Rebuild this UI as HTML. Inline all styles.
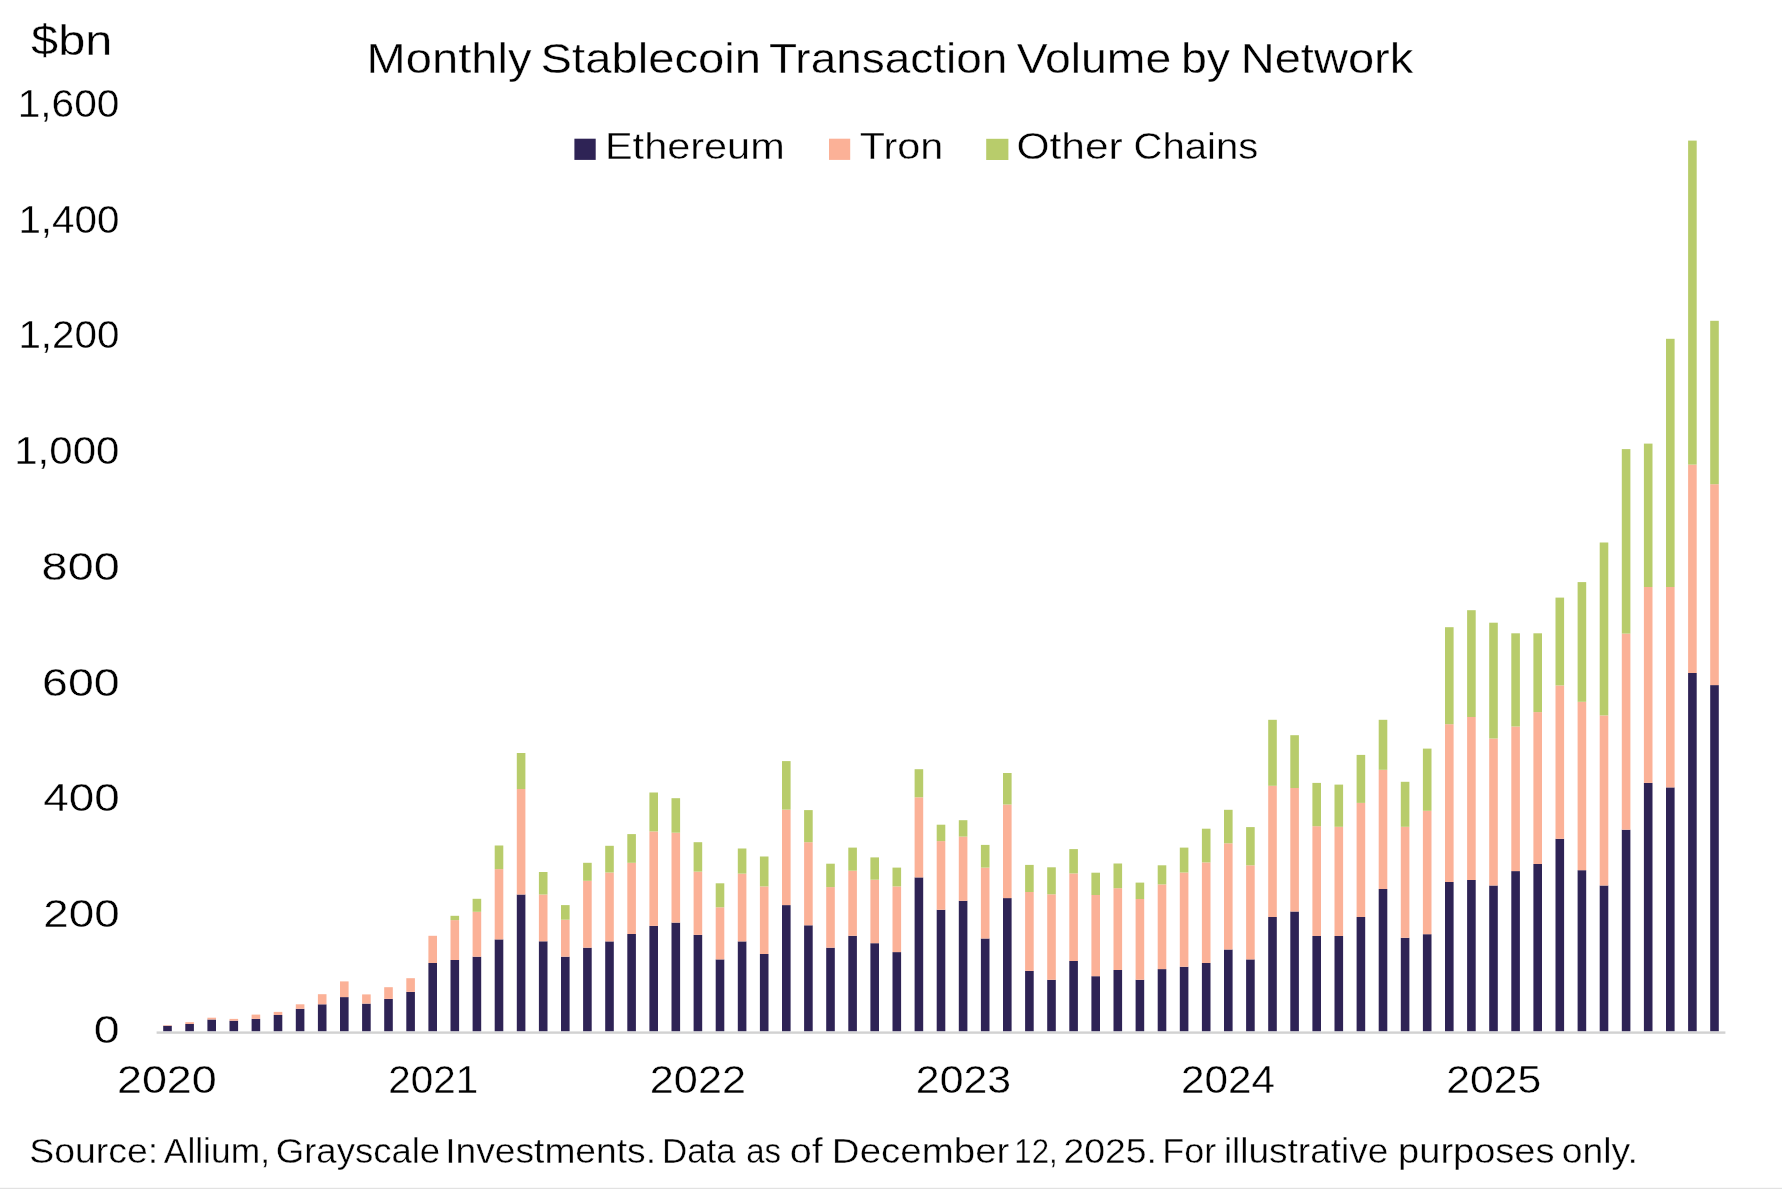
<!DOCTYPE html>
<html><head><meta charset="utf-8"><title>Monthly Stablecoin Transaction Volume by Network</title>
<style>
html,body{margin:0;padding:0;background:#fff;}
body{width:1782px;height:1189px;overflow:hidden;font-family:"Liberation Sans",sans-serif;}
svg{display:block;position:absolute;left:0;top:0;}
svg text{font-family:"Liberation Sans",sans-serif;}
</style></head><body>
<svg width="1782" height="1189" viewBox="0 0 1782 1189">
<rect x="0" y="0" width="1782" height="1189" fill="#ffffff"/>
<rect x="156.6" y="1031.4" width="1568.8" height="2.4" fill="#d2d2d2"/>
<rect x="0" y="1187.8" width="1782" height="1.2" fill="#e2e2e2"/>
<g>
<rect x="163.20" y="1025.80" width="8.6" height="5.40" fill="#2e2355"/>
<rect x="163.20" y="1025.20" width="8.6" height="0.60" fill="#fbb197"/>
<rect x="185.30" y="1024.00" width="8.6" height="7.20" fill="#2e2355"/>
<rect x="185.30" y="1022.20" width="8.6" height="1.80" fill="#fbb197"/>
<rect x="207.40" y="1019.50" width="8.6" height="11.70" fill="#2e2355"/>
<rect x="207.40" y="1017.70" width="8.6" height="1.80" fill="#fbb197"/>
<rect x="229.50" y="1020.70" width="8.6" height="10.50" fill="#2e2355"/>
<rect x="229.50" y="1018.90" width="8.6" height="1.80" fill="#fbb197"/>
<rect x="251.60" y="1018.90" width="8.6" height="12.30" fill="#2e2355"/>
<rect x="251.60" y="1014.60" width="8.6" height="4.30" fill="#fbb197"/>
<rect x="273.70" y="1015.00" width="8.6" height="16.20" fill="#2e2355"/>
<rect x="273.70" y="1011.90" width="8.6" height="3.10" fill="#fbb197"/>
<rect x="295.80" y="1008.80" width="8.6" height="22.40" fill="#2e2355"/>
<rect x="295.80" y="1004.30" width="8.6" height="4.50" fill="#fbb197"/>
<rect x="317.90" y="1004.30" width="8.6" height="26.90" fill="#2e2355"/>
<rect x="317.90" y="994.20" width="8.6" height="10.10" fill="#fbb197"/>
<rect x="340.00" y="997.10" width="8.6" height="34.10" fill="#2e2355"/>
<rect x="340.00" y="981.40" width="8.6" height="15.70" fill="#fbb197"/>
<rect x="362.10" y="1003.60" width="8.6" height="27.60" fill="#2e2355"/>
<rect x="362.10" y="994.40" width="8.6" height="9.20" fill="#fbb197"/>
<rect x="384.20" y="998.90" width="8.6" height="32.30" fill="#2e2355"/>
<rect x="384.20" y="987.20" width="8.6" height="11.70" fill="#fbb197"/>
<rect x="406.30" y="991.90" width="8.6" height="39.30" fill="#2e2355"/>
<rect x="406.30" y="978.20" width="8.6" height="13.70" fill="#fbb197"/>
<rect x="428.40" y="963.00" width="8.6" height="68.20" fill="#2e2355"/>
<rect x="428.40" y="935.80" width="8.6" height="27.20" fill="#fbb197"/>
<rect x="450.50" y="960.00" width="8.6" height="71.20" fill="#2e2355"/>
<rect x="450.50" y="920.10" width="8.6" height="39.90" fill="#fbb197"/>
<rect x="450.50" y="915.80" width="8.6" height="4.30" fill="#b8cc6b"/>
<rect x="472.60" y="956.70" width="8.6" height="74.50" fill="#2e2355"/>
<rect x="472.60" y="911.80" width="8.6" height="44.90" fill="#fbb197"/>
<rect x="472.60" y="898.80" width="8.6" height="13.00" fill="#b8cc6b"/>
<rect x="494.70" y="939.40" width="8.6" height="91.80" fill="#2e2355"/>
<rect x="494.70" y="869.10" width="8.6" height="70.30" fill="#fbb197"/>
<rect x="494.70" y="845.50" width="8.6" height="23.60" fill="#b8cc6b"/>
<rect x="516.80" y="894.50" width="8.6" height="136.70" fill="#2e2355"/>
<rect x="516.80" y="789.00" width="8.6" height="105.50" fill="#fbb197"/>
<rect x="516.80" y="753.00" width="8.6" height="36.00" fill="#b8cc6b"/>
<rect x="538.90" y="941.30" width="8.6" height="89.90" fill="#2e2355"/>
<rect x="538.90" y="894.50" width="8.6" height="46.80" fill="#fbb197"/>
<rect x="538.90" y="872.00" width="8.6" height="22.50" fill="#b8cc6b"/>
<rect x="561.00" y="956.70" width="8.6" height="74.50" fill="#2e2355"/>
<rect x="561.00" y="919.70" width="8.6" height="37.00" fill="#fbb197"/>
<rect x="561.00" y="905.10" width="8.6" height="14.60" fill="#b8cc6b"/>
<rect x="583.10" y="947.70" width="8.6" height="83.50" fill="#2e2355"/>
<rect x="583.10" y="880.80" width="8.6" height="66.90" fill="#fbb197"/>
<rect x="583.10" y="862.80" width="8.6" height="18.00" fill="#b8cc6b"/>
<rect x="605.20" y="941.40" width="8.6" height="89.80" fill="#2e2355"/>
<rect x="605.20" y="872.50" width="8.6" height="68.90" fill="#fbb197"/>
<rect x="605.20" y="845.80" width="8.6" height="26.70" fill="#b8cc6b"/>
<rect x="627.30" y="934.00" width="8.6" height="97.20" fill="#2e2355"/>
<rect x="627.30" y="862.80" width="8.6" height="71.20" fill="#fbb197"/>
<rect x="627.30" y="834.10" width="8.6" height="28.70" fill="#b8cc6b"/>
<rect x="649.40" y="925.90" width="8.6" height="105.30" fill="#2e2355"/>
<rect x="649.40" y="831.40" width="8.6" height="94.50" fill="#fbb197"/>
<rect x="649.40" y="792.50" width="8.6" height="38.90" fill="#b8cc6b"/>
<rect x="671.50" y="922.60" width="8.6" height="108.60" fill="#2e2355"/>
<rect x="671.50" y="832.70" width="8.6" height="89.90" fill="#fbb197"/>
<rect x="671.50" y="798.20" width="8.6" height="34.50" fill="#b8cc6b"/>
<rect x="693.60" y="934.90" width="8.6" height="96.30" fill="#2e2355"/>
<rect x="693.60" y="871.60" width="8.6" height="63.30" fill="#fbb197"/>
<rect x="693.60" y="842.20" width="8.6" height="29.40" fill="#b8cc6b"/>
<rect x="715.70" y="959.40" width="8.6" height="71.80" fill="#2e2355"/>
<rect x="715.70" y="907.30" width="8.6" height="52.10" fill="#fbb197"/>
<rect x="715.70" y="883.30" width="8.6" height="24.00" fill="#b8cc6b"/>
<rect x="737.80" y="941.40" width="8.6" height="89.80" fill="#2e2355"/>
<rect x="737.80" y="873.60" width="8.6" height="67.80" fill="#fbb197"/>
<rect x="737.80" y="848.50" width="8.6" height="25.10" fill="#b8cc6b"/>
<rect x="759.90" y="954.00" width="8.6" height="77.20" fill="#2e2355"/>
<rect x="759.90" y="886.40" width="8.6" height="67.60" fill="#fbb197"/>
<rect x="759.90" y="856.50" width="8.6" height="29.90" fill="#b8cc6b"/>
<rect x="782.00" y="905.10" width="8.6" height="126.10" fill="#2e2355"/>
<rect x="782.00" y="809.60" width="8.6" height="95.50" fill="#fbb197"/>
<rect x="782.00" y="761.10" width="8.6" height="48.50" fill="#b8cc6b"/>
<rect x="804.10" y="925.30" width="8.6" height="105.90" fill="#2e2355"/>
<rect x="804.10" y="842.20" width="8.6" height="83.10" fill="#fbb197"/>
<rect x="804.10" y="810.10" width="8.6" height="32.10" fill="#b8cc6b"/>
<rect x="826.20" y="947.70" width="8.6" height="83.50" fill="#2e2355"/>
<rect x="826.20" y="887.10" width="8.6" height="60.60" fill="#fbb197"/>
<rect x="826.20" y="863.70" width="8.6" height="23.40" fill="#b8cc6b"/>
<rect x="848.30" y="935.80" width="8.6" height="95.40" fill="#2e2355"/>
<rect x="848.30" y="870.70" width="8.6" height="65.10" fill="#fbb197"/>
<rect x="848.30" y="847.60" width="8.6" height="23.10" fill="#b8cc6b"/>
<rect x="870.40" y="943.20" width="8.6" height="88.00" fill="#2e2355"/>
<rect x="870.40" y="879.70" width="8.6" height="63.50" fill="#fbb197"/>
<rect x="870.40" y="857.40" width="8.6" height="22.30" fill="#b8cc6b"/>
<rect x="892.50" y="952.10" width="8.6" height="79.10" fill="#2e2355"/>
<rect x="892.50" y="886.40" width="8.6" height="65.70" fill="#fbb197"/>
<rect x="892.50" y="867.60" width="8.6" height="18.80" fill="#b8cc6b"/>
<rect x="914.60" y="877.40" width="8.6" height="153.80" fill="#2e2355"/>
<rect x="914.60" y="797.30" width="8.6" height="80.10" fill="#fbb197"/>
<rect x="914.60" y="769.20" width="8.6" height="28.10" fill="#b8cc6b"/>
<rect x="936.70" y="909.80" width="8.6" height="121.40" fill="#2e2355"/>
<rect x="936.70" y="841.10" width="8.6" height="68.70" fill="#fbb197"/>
<rect x="936.70" y="824.70" width="8.6" height="16.40" fill="#b8cc6b"/>
<rect x="958.80" y="900.80" width="8.6" height="130.40" fill="#2e2355"/>
<rect x="958.80" y="836.60" width="8.6" height="64.20" fill="#fbb197"/>
<rect x="958.80" y="820.20" width="8.6" height="16.40" fill="#b8cc6b"/>
<rect x="980.90" y="938.50" width="8.6" height="92.70" fill="#2e2355"/>
<rect x="980.90" y="867.60" width="8.6" height="70.90" fill="#fbb197"/>
<rect x="980.90" y="844.90" width="8.6" height="22.70" fill="#b8cc6b"/>
<rect x="1003.00" y="898.10" width="8.6" height="133.10" fill="#2e2355"/>
<rect x="1003.00" y="804.50" width="8.6" height="93.60" fill="#fbb197"/>
<rect x="1003.00" y="773.00" width="8.6" height="31.50" fill="#b8cc6b"/>
<rect x="1025.10" y="970.90" width="8.6" height="60.30" fill="#2e2355"/>
<rect x="1025.10" y="892.00" width="8.6" height="78.90" fill="#fbb197"/>
<rect x="1025.10" y="864.90" width="8.6" height="27.10" fill="#b8cc6b"/>
<rect x="1047.20" y="979.80" width="8.6" height="51.40" fill="#2e2355"/>
<rect x="1047.20" y="894.30" width="8.6" height="85.50" fill="#fbb197"/>
<rect x="1047.20" y="867.30" width="8.6" height="27.00" fill="#b8cc6b"/>
<rect x="1069.30" y="961.00" width="8.6" height="70.20" fill="#2e2355"/>
<rect x="1069.30" y="873.40" width="8.6" height="87.60" fill="#fbb197"/>
<rect x="1069.30" y="849.10" width="8.6" height="24.30" fill="#b8cc6b"/>
<rect x="1091.40" y="976.20" width="8.6" height="55.00" fill="#2e2355"/>
<rect x="1091.40" y="895.00" width="8.6" height="81.20" fill="#fbb197"/>
<rect x="1091.40" y="872.70" width="8.6" height="22.30" fill="#b8cc6b"/>
<rect x="1113.50" y="970.00" width="8.6" height="61.20" fill="#2e2355"/>
<rect x="1113.50" y="888.20" width="8.6" height="81.80" fill="#fbb197"/>
<rect x="1113.50" y="863.50" width="8.6" height="24.70" fill="#b8cc6b"/>
<rect x="1135.60" y="979.80" width="8.6" height="51.40" fill="#2e2355"/>
<rect x="1135.60" y="899.00" width="8.6" height="80.80" fill="#fbb197"/>
<rect x="1135.60" y="882.60" width="8.6" height="16.40" fill="#b8cc6b"/>
<rect x="1157.70" y="969.10" width="8.6" height="62.10" fill="#2e2355"/>
<rect x="1157.70" y="884.40" width="8.6" height="84.70" fill="#fbb197"/>
<rect x="1157.70" y="865.30" width="8.6" height="19.10" fill="#b8cc6b"/>
<rect x="1179.80" y="966.80" width="8.6" height="64.40" fill="#2e2355"/>
<rect x="1179.80" y="872.50" width="8.6" height="94.30" fill="#fbb197"/>
<rect x="1179.80" y="847.60" width="8.6" height="24.90" fill="#b8cc6b"/>
<rect x="1201.90" y="963.00" width="8.6" height="68.20" fill="#2e2355"/>
<rect x="1201.90" y="862.40" width="8.6" height="100.60" fill="#fbb197"/>
<rect x="1201.90" y="828.70" width="8.6" height="33.70" fill="#b8cc6b"/>
<rect x="1224.00" y="949.50" width="8.6" height="81.70" fill="#2e2355"/>
<rect x="1224.00" y="843.30" width="8.6" height="106.20" fill="#fbb197"/>
<rect x="1224.00" y="809.80" width="8.6" height="33.50" fill="#b8cc6b"/>
<rect x="1246.10" y="959.40" width="8.6" height="71.80" fill="#2e2355"/>
<rect x="1246.10" y="865.30" width="8.6" height="94.10" fill="#fbb197"/>
<rect x="1246.10" y="827.10" width="8.6" height="38.20" fill="#b8cc6b"/>
<rect x="1268.20" y="917.00" width="8.6" height="114.20" fill="#2e2355"/>
<rect x="1268.20" y="785.80" width="8.6" height="131.20" fill="#fbb197"/>
<rect x="1268.20" y="719.80" width="8.6" height="66.00" fill="#b8cc6b"/>
<rect x="1290.30" y="911.50" width="8.6" height="119.70" fill="#2e2355"/>
<rect x="1290.30" y="788.00" width="8.6" height="123.50" fill="#fbb197"/>
<rect x="1290.30" y="735.20" width="8.6" height="52.80" fill="#b8cc6b"/>
<rect x="1312.40" y="936.00" width="8.6" height="95.20" fill="#2e2355"/>
<rect x="1312.40" y="826.20" width="8.6" height="109.80" fill="#fbb197"/>
<rect x="1312.40" y="782.90" width="8.6" height="43.30" fill="#b8cc6b"/>
<rect x="1334.50" y="936.00" width="8.6" height="95.20" fill="#2e2355"/>
<rect x="1334.50" y="826.80" width="8.6" height="109.20" fill="#fbb197"/>
<rect x="1334.50" y="784.60" width="8.6" height="42.20" fill="#b8cc6b"/>
<rect x="1356.60" y="917.00" width="8.6" height="114.20" fill="#2e2355"/>
<rect x="1356.60" y="802.90" width="8.6" height="114.10" fill="#fbb197"/>
<rect x="1356.60" y="754.90" width="8.6" height="48.00" fill="#b8cc6b"/>
<rect x="1378.70" y="889.00" width="8.6" height="142.20" fill="#2e2355"/>
<rect x="1378.70" y="769.80" width="8.6" height="119.20" fill="#fbb197"/>
<rect x="1378.70" y="719.80" width="8.6" height="50.00" fill="#b8cc6b"/>
<rect x="1400.80" y="937.80" width="8.6" height="93.40" fill="#2e2355"/>
<rect x="1400.80" y="826.80" width="8.6" height="111.00" fill="#fbb197"/>
<rect x="1400.80" y="781.80" width="8.6" height="45.00" fill="#b8cc6b"/>
<rect x="1422.90" y="934.20" width="8.6" height="97.00" fill="#2e2355"/>
<rect x="1422.90" y="810.80" width="8.6" height="123.40" fill="#fbb197"/>
<rect x="1422.90" y="748.60" width="8.6" height="62.20" fill="#b8cc6b"/>
<rect x="1445.00" y="882.00" width="8.6" height="149.20" fill="#2e2355"/>
<rect x="1445.00" y="724.20" width="8.6" height="157.80" fill="#fbb197"/>
<rect x="1445.00" y="627.20" width="8.6" height="97.00" fill="#b8cc6b"/>
<rect x="1467.10" y="880.00" width="8.6" height="151.20" fill="#2e2355"/>
<rect x="1467.10" y="717.00" width="8.6" height="163.00" fill="#fbb197"/>
<rect x="1467.10" y="610.20" width="8.6" height="106.80" fill="#b8cc6b"/>
<rect x="1489.20" y="885.50" width="8.6" height="145.70" fill="#2e2355"/>
<rect x="1489.20" y="738.50" width="8.6" height="147.00" fill="#fbb197"/>
<rect x="1489.20" y="622.70" width="8.6" height="115.80" fill="#b8cc6b"/>
<rect x="1511.30" y="871.10" width="8.6" height="160.10" fill="#2e2355"/>
<rect x="1511.30" y="726.50" width="8.6" height="144.60" fill="#fbb197"/>
<rect x="1511.30" y="633.30" width="8.6" height="93.20" fill="#b8cc6b"/>
<rect x="1533.40" y="864.00" width="8.6" height="167.20" fill="#2e2355"/>
<rect x="1533.40" y="712.10" width="8.6" height="151.90" fill="#fbb197"/>
<rect x="1533.40" y="633.30" width="8.6" height="78.80" fill="#b8cc6b"/>
<rect x="1555.50" y="838.80" width="8.6" height="192.40" fill="#2e2355"/>
<rect x="1555.50" y="685.40" width="8.6" height="153.40" fill="#fbb197"/>
<rect x="1555.50" y="597.60" width="8.6" height="87.80" fill="#b8cc6b"/>
<rect x="1577.60" y="870.20" width="8.6" height="161.00" fill="#2e2355"/>
<rect x="1577.60" y="701.80" width="8.6" height="168.40" fill="#fbb197"/>
<rect x="1577.60" y="582.10" width="8.6" height="119.70" fill="#b8cc6b"/>
<rect x="1599.70" y="885.50" width="8.6" height="145.70" fill="#2e2355"/>
<rect x="1599.70" y="715.40" width="8.6" height="170.10" fill="#fbb197"/>
<rect x="1599.70" y="542.50" width="8.6" height="172.90" fill="#b8cc6b"/>
<rect x="1621.80" y="829.70" width="8.6" height="201.50" fill="#2e2355"/>
<rect x="1621.80" y="633.60" width="8.6" height="196.10" fill="#fbb197"/>
<rect x="1621.80" y="449.10" width="8.6" height="184.50" fill="#b8cc6b"/>
<rect x="1643.90" y="782.90" width="8.6" height="248.30" fill="#2e2355"/>
<rect x="1643.90" y="587.00" width="8.6" height="195.90" fill="#fbb197"/>
<rect x="1643.90" y="443.60" width="8.6" height="143.40" fill="#b8cc6b"/>
<rect x="1666.00" y="787.40" width="8.6" height="243.80" fill="#2e2355"/>
<rect x="1666.00" y="587.00" width="8.6" height="200.40" fill="#fbb197"/>
<rect x="1666.00" y="338.80" width="8.6" height="248.20" fill="#b8cc6b"/>
<rect x="1688.10" y="673.00" width="8.6" height="358.20" fill="#2e2355"/>
<rect x="1688.10" y="464.60" width="8.6" height="208.40" fill="#fbb197"/>
<rect x="1688.10" y="140.60" width="8.6" height="324.00" fill="#b8cc6b"/>
<rect x="1710.20" y="685.10" width="8.6" height="346.10" fill="#2e2355"/>
<rect x="1710.20" y="484.20" width="8.6" height="200.90" fill="#fbb197"/>
<rect x="1710.20" y="320.80" width="8.6" height="163.40" fill="#b8cc6b"/>
</g>
<rect x="574.4" y="138.7" width="21.3" height="21.2" fill="#2e2355"/>
<rect x="829.0" y="138.7" width="21.2" height="21.2" fill="#fbb197"/>
<rect x="986.2" y="138.8" width="22.2" height="21.2" fill="#b8cc6b"/>
<g opacity="0.999" stroke="#ffffff" stroke-width="0.35">
<text transform="translate(31.12,54.80) scale(1.1610,1)" font-size="42" fill="#000">$bn</text>
<text transform="translate(17.70,117.05) scale(1.0347,1)" font-size="39.3" fill="#000">1,600</text>
<text transform="translate(18.42,232.75) scale(1.0272,1)" font-size="39.3" fill="#000">1,400</text>
<text transform="translate(18.42,348.45) scale(1.0272,1)" font-size="39.3" fill="#000">1,200</text>
<text transform="translate(14.19,464.15) scale(1.0709,1)" font-size="39.3" fill="#000">1,000</text>
<text transform="translate(41.62,579.85) scale(1.1904,1)" font-size="39.3" fill="#000">800</text>
<text transform="translate(42.03,695.55) scale(1.1839,1)" font-size="39.3" fill="#000">600</text>
<text transform="translate(43.23,811.25) scale(1.1651,1)" font-size="39.3" fill="#000">400</text>
<text transform="translate(43.27,926.95) scale(1.1645,1)" font-size="39.3" fill="#000">200</text>
<text transform="translate(93.82,1042.65) scale(1.1840,1)" font-size="39.3" fill="#000">0</text>
<text transform="translate(116.91,1093.30) scale(1.1429,1)" font-size="39.3" fill="#000">2020</text>
<text transform="translate(388.34,1093.30) scale(1.0287,1)" font-size="39.3" fill="#000">2021</text>
<text transform="translate(649.80,1093.30) scale(1.1006,1)" font-size="39.3" fill="#000">2022</text>
<text transform="translate(915.82,1093.30) scale(1.0901,1)" font-size="39.3" fill="#000">2023</text>
<text transform="translate(1181.05,1093.30) scale(1.0754,1)" font-size="39.3" fill="#000">2024</text>
<text transform="translate(1446.32,1093.30) scale(1.0878,1)" font-size="39.3" fill="#000">2025</text>
<text transform="translate(366.54,72.80) scale(1.1324,1)" font-size="41.6" fill="#000">Monthly</text>
<text transform="translate(540.53,72.80) scale(1.1356,1)" font-size="41.6" fill="#000">Stablecoin</text>
<text transform="translate(768.99,72.80) scale(1.1052,1)" font-size="41.6" fill="#000">Transaction</text>
<text transform="translate(1016.72,72.80) scale(1.1137,1)" font-size="41.6" fill="#000">Volume</text>
<text transform="translate(1180.92,72.80) scale(1.1195,1)" font-size="41.6" fill="#000">by</text>
<text transform="translate(1240.64,72.80) scale(1.1322,1)" font-size="41.6" fill="#000">Network</text>
<text transform="translate(604.98,158.70) scale(1.1057,1)" font-size="37.5" fill="#000">Ethereum</text>
<text transform="translate(859.77,158.70) scale(1.1021,1)" font-size="37.5" fill="#000">Tron</text>
<text transform="translate(1016.52,158.70) scale(1.1333,1)" font-size="37.5" fill="#000">Other</text>
<text transform="translate(1133.56,158.70) scale(1.0678,1)" font-size="37.5" fill="#000">Chains</text>
<text transform="translate(29.20,1163.10) scale(1.0860,1)" font-size="34.5" fill="#000">Source:</text>
<text transform="translate(163.80,1163.10) scale(1.0259,1)" font-size="34.5" fill="#000">Allium,</text>
<text transform="translate(275.75,1163.10) scale(1.0592,1)" font-size="34.5" fill="#000">Grayscale</text>
<text transform="translate(445.20,1163.10) scale(1.0779,1)" font-size="34.5" fill="#000">Investments.</text>
<text transform="translate(662.02,1163.10) scale(1.0114,1)" font-size="34.5" fill="#000">Data</text>
<text transform="translate(746.26,1163.10) scale(0.9570,1)" font-size="34.5" fill="#000">as</text>
<text transform="translate(789.78,1163.10) scale(1.1486,1)" font-size="34.5" fill="#000">of</text>
<text transform="translate(831.83,1163.10) scale(1.1159,1)" font-size="34.5" fill="#000">December</text>
<text transform="translate(1014.32,1163.10) scale(0.9024,1)" font-size="34.5" fill="#000">12,</text>
<text transform="translate(1063.41,1163.10) scale(1.0822,1)" font-size="34.5" fill="#000">2025.</text>
<text transform="translate(1162.24,1163.10) scale(1.0412,1)" font-size="34.5" fill="#000">For</text>
<text transform="translate(1223.89,1163.10) scale(1.0716,1)" font-size="34.5" fill="#000">illustrative</text>
<text transform="translate(1398.12,1163.10) scale(1.1025,1)" font-size="34.5" fill="#000">purposes</text>
<text transform="translate(1561.78,1163.10) scale(1.0814,1)" font-size="34.5" fill="#000">only.</text>
</g>
</svg>
</body></html>
